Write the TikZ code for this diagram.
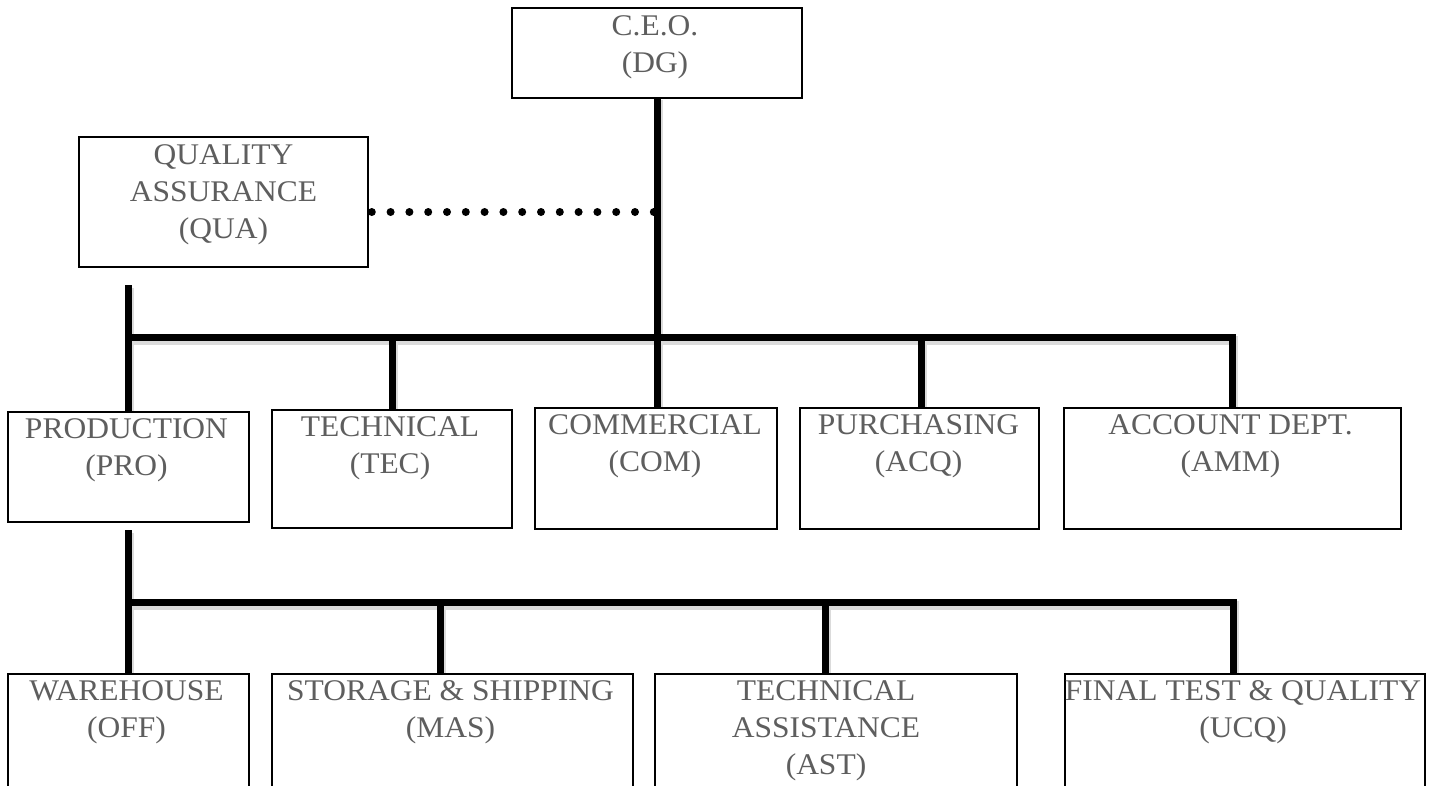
\documentclass[tikz,border=0pt]{standalone}
\usepackage{fontspec}
\setmainfont{Liberation Serif}[FakeStretch=1.05]
\usetikzlibrary{calc}
\definecolor{txtgray}{HTML}{5E5E5E}
\newcommand\orgwires[1]{%
  \draw[#1] (ceobot) -- (ceobot |- com.north);
  \draw[#1] (protop) -- (pro.north);
  \draw[#1] (pro.north |- b1) -- (acctop |- b1) -- (acctop);
  \draw[#1] (tec.north |- b1) -- (tec.north);
  \draw[#1] (purtop |- b1) -- (purtop);
  \draw[#1] (probot) -- (war.north);
  \draw[#1] (war.north |- b2) -- (fintop |- b2) -- (fintop);
  \draw[#1] (stotop |- b2) -- (stotop);
  \draw[#1] (asttop |- b2) -- (asttop);
}
\begin{document}
\begin{tikzpicture}[x=1pt,y=-1pt,
  box/.style={draw=black, line width=1.6pt, fill=white, inner sep=0pt},
  lbl/.style={anchor=north, align=center, inner sep=0pt, text=txtgray,
    font=\fontsize{30}{37}\selectfont},
  wire/.style={line width=7pt, black, line join=miter},
  wireshadow/.style={line width=9pt, black!14, line join=miter,
    transform canvas={shift={(1pt,-3pt)}}},
  dotline/.style={line width=8pt, black, line cap=round, dash pattern=on 0pt off 18.8pt}]
\useasboundingbox (0,0) rectangle (1434,785);
\begin{scope}
\clip (0,0) rectangle (1434,785);
\coordinate (b1) at (0,337);
\coordinate (b2) at (0,602);
% boxes (positions)
\path
  node[box, minimum width=288pt, minimum height=88pt]  (ceo) at (657,53) {}
  node[box, minimum width=287pt, minimum height=128pt] (qua) at (223.5,202) {}
  node[box, minimum width=239pt, minimum height=108pt] (pro) at (128.5,467) {}
  node[box, minimum width=238pt, minimum height=116pt] (tec) at (392,469) {}
  node[box, minimum width=240pt, minimum height=119pt] (com) at (656,468.5) {}
  node[box, minimum width=237pt, minimum height=119pt] (pur) at (919.5,468.5) {}
  node[box, minimum width=335pt, minimum height=119pt] (acc) at (1232.5,468.5) {}
  node[box, minimum width=239pt, minimum height=145pt] (war) at (128.5,747.5) {}
  node[box, minimum width=359pt, minimum height=145pt] (sto) at (452.5,747.5) {}
  node[box, minimum width=360pt, minimum height=145pt] (ast) at (836,747.5) {}
  node[box, minimum width=358pt, minimum height=145pt] (fin) at (1245,747.5) {};
\coordinate (protop) at (128.5,285);
\coordinate (probot) at (128.5,530);
\coordinate (stotop) at ([xshift=-12.5pt]sto.north);
\coordinate (asttop) at ([xshift=-11pt]ast.north);
\coordinate (fintop) at ([xshift=-12pt]fin.north);
\coordinate (acctop) at (acc.north);
\coordinate (purtop) at ([xshift=1.5pt]pur.north);
\coordinate (ceobot) at ([yshift=1pt]ceo.south);
\coordinate (quadot) at ([xshift=4pt,yshift=-10pt]qua.east);
% connectors: soft shadow pass, then black pass
\orgwires{wireshadow}
\orgwires{wire}
% dotted staff link
\draw[dotline] (quadot) -- (ceobot |- quadot);
% redraw boxes on top
\foreach \n in {ceo,qua,pro,tec,com,pur,acc,war,sto,ast,fin}{
  \draw[line width=1.6pt, fill=white] (\n.north west) rectangle (\n.south east);
}
% labels
\node[lbl] (ceo-t) at ($(ceo.north)+(-2,7)$) {C.E.O.\\(DG)};
\node[lbl] (qua-t) at ($(qua.north)+(0,7)$) {QUALITY\\ASSURANCE\\(QUA)};
\node[lbl] (pro-t) at ($(pro.north)+(-2,6)$) {PRODUCTION\\(PRO)};
\node[lbl] (tec-t) at ($(tec.north)+(-2,6)$) {TECHNICAL\\(TEC)};
\node[lbl] (com-t) at ($(com.north)+(-1,6)$) {COMMERCIAL\\(COM)};
\node[lbl] (pur-t) at ($(pur.north)+(-1,6)$) {PURCHASING\\(ACQ)};
\node[lbl] (acc-t) at ($(acc.north)+(-2,6)$) {ACCOUNT DEPT.\\(AMM)};
\node[lbl] (war-t) at ($(war.north)+(-2,6)$) {WAREHOUSE\\(OFF)};
\node[lbl] (sto-t) at ($(sto.north)+(-2,6)$) {STORAGE \& SHIPPING\\(MAS)};
\node[lbl] (ast-t) at ($(ast.north)+(-10,6)$) {TECHNICAL\\ASSISTANCE\\(AST)};
\node[lbl] (fin-t) at ($(fin.north)+(-2,6)$) {FINAL TEST \& QUALITY\\(UCQ)};
\end{scope}
\end{tikzpicture}
\end{document}
